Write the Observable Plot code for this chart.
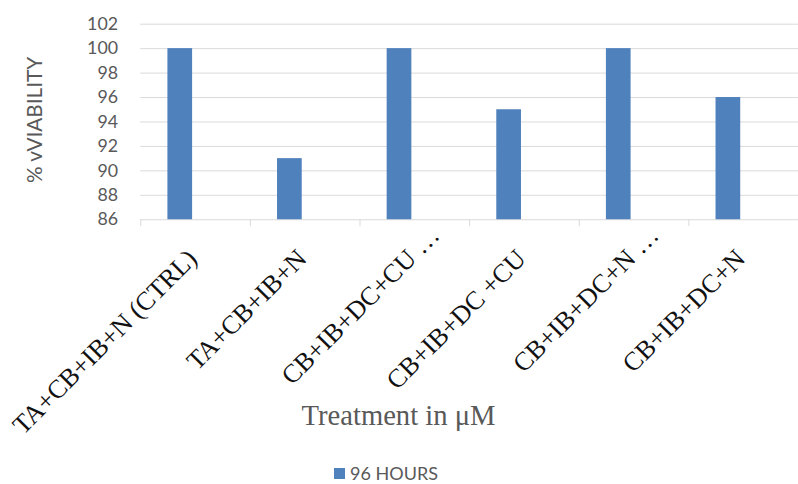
<!DOCTYPE html>
<html>
<head>
<meta charset="utf-8">
<script src="https://cdn.jsdelivr.net/npm/d3@7"></script>
<script src="https://cdn.jsdelivr.net/npm/@observablehq/plot@0.6"></script>
<style>
  html, body { margin: 0; padding: 0; background: #fff; }
  #wrap { width: 798px; height: 484px; overflow: hidden; position: relative; }
  #legend { position: absolute; left: 334px; top: 462px; display: flex; align-items: center;
            font-family: Lato, "Open Sans", sans-serif; font-size: 18px; color: #595959; }
  #legend .sw { width: 11px; height: 11px; background: #4F81BD; margin-right: 5px; }
</style>
</head>
<body>
<div id="wrap"><div id="chart"></div><div id="legend"><div class="sw"></div><span id="legtext"></span></div></div>
<script>
const categories = [
  "TA+CB+IB+N (CTRL)",
  "TA+CB+IB+N",
  "CB+IB+DC+CU …",
  "CB+IB+DC +CU",
  "CB+IB+DC+N …",
  "CB+IB+DC+N"
];
const viability = [100, 91, 100, 95, 100, 96];
const yTicks = [86, 88, 90, 92, 94, 96, 98, 100, 102];
const seriesName = "96 HOURS";
const yLabel = "% vVIABILITY";
const xTitle = "Treatment in μM";

const data = categories.map((c, i) => ({cat: c, v: viability[i]}));
const ELL = " …";
const labelFont = "'Liberation Serif', 'Times New Roman', serif";
const labelOpts = {x: "cat", frameAnchor: "bottom", rotate: -45, dx: 3, dy: 41,
                   fontSize: 26.5, fontFamily: labelFont, fill: "#111"};

const chart = Plot.plot({
  width: 808,
  height: 450,
  marginLeft: 142,
  marginRight: 0,
  marginTop: 24,
  marginBottom: 228,
  style: {background: "#fff", overflow: "visible"},
  x: {domain: categories, padding: 0, axis: null},
  y: {domain: [86, 102], axis: null},
  marks: [
    Plot.ruleY(yTicks, {stroke: "#d9d9d9", strokeWidth: 1}),
    Plot.axisX({anchor: "bottom", tickSize: 7, tickFormat: null, label: null, stroke: "#d9d9d9", dx: -55.5}),
    Plot.barY(data, {x: "cat", y: "v", fill: "#4F81BD", insetLeft: 27.5, insetRight: 58.5, clip: true}),
    Plot.axisY({ticks: yTicks, tickSize: 0, tickPadding: 23, fontSize: 18, fill: "#595959",
                fontFamily: "Lato, 'Open Sans', sans-serif", label: null}),
    // category labels: main part end-anchored at the band, truncation ellipsis trailing past it
    Plot.text(data, {...labelOpts, text: d => d.cat.endsWith(ELL) ? d.cat.slice(0, -ELL.length) : d.cat, textAnchor: "end"}),
    Plot.text(data.filter(d => d.cat.endsWith(ELL)), {...labelOpts, text: () => "\u00A0…", textAnchor: "start"}),
    Plot.text([yLabel], {text: d => d, frameAnchor: "left", textAnchor: "middle", lineAnchor: "middle",
                     rotate: -90, dx: -107, dy: -2,
                     fontSize: 21, fontFamily: "Lato, 'Open Sans', sans-serif", fill: "#595959"}),
    Plot.text([xTitle], {text: d => d, frameAnchor: "bottom", dx: -72, dy: 208,
                     fontSize: 29, fontFamily: labelFont, fill: "#595959"})
  ]
});
document.getElementById("chart").appendChild(chart);
document.getElementById("legtext").textContent = seriesName;
</script>
</body>
</html>
